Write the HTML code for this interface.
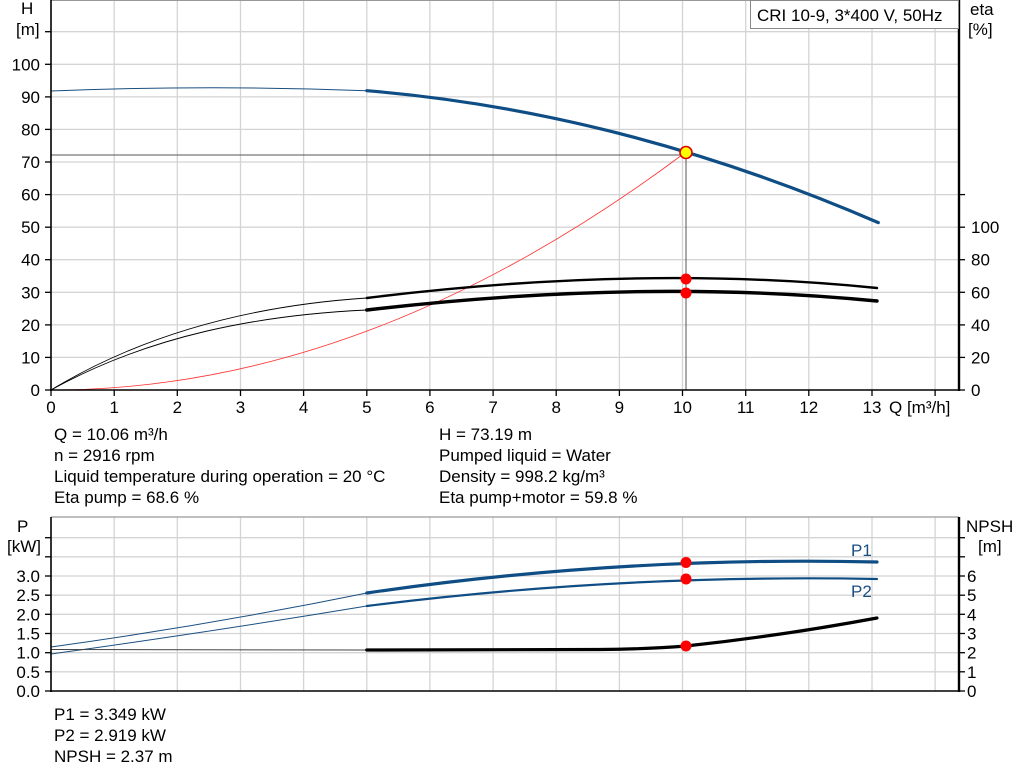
<!DOCTYPE html>
<html><head><meta charset="utf-8"><style>
html,body{margin:0;padding:0;background:#fff}
svg{display:block}
text{font-family:"Liberation Sans",Arial,sans-serif;font-size:17px;fill:#000}
</style></head><body>
<svg width="1024" height="781" viewBox="0 0 1024 781" xmlns="http://www.w3.org/2000/svg">
<g stroke="#d4d4d4" stroke-width="1.3">
<line x1="114.2" y1="0" x2="114.2" y2="390"/><line x1="177.3" y1="0" x2="177.3" y2="390"/><line x1="240.5" y1="0" x2="240.5" y2="390"/><line x1="303.6" y1="0" x2="303.6" y2="390"/><line x1="366.8" y1="0" x2="366.8" y2="390"/><line x1="429.9" y1="0" x2="429.9" y2="390"/><line x1="493.1" y1="0" x2="493.1" y2="390"/><line x1="556.2" y1="0" x2="556.2" y2="390"/><line x1="619.4" y1="0" x2="619.4" y2="390"/><line x1="682.5" y1="0" x2="682.5" y2="390"/><line x1="745.7" y1="0" x2="745.7" y2="390"/><line x1="808.8" y1="0" x2="808.8" y2="390"/><line x1="872" y1="0" x2="872" y2="390"/><line x1="935.1" y1="0" x2="935.1" y2="390"/>
<line x1="51" y1="357.4" x2="959" y2="357.4"/><line x1="51" y1="324.9" x2="959" y2="324.9"/><line x1="51" y1="292.3" x2="959" y2="292.3"/><line x1="51" y1="259.7" x2="959" y2="259.7"/><line x1="51" y1="227.2" x2="959" y2="227.2"/><line x1="51" y1="194.6" x2="959" y2="194.6"/><line x1="51" y1="162" x2="959" y2="162"/><line x1="51" y1="129.4" x2="959" y2="129.4"/><line x1="51" y1="96.9" x2="959" y2="96.9"/><line x1="51" y1="64.3" x2="959" y2="64.3"/><line x1="51" y1="31.7" x2="959" y2="31.7"/>
</g>
<line x1="51" y1="0.5" x2="959" y2="0.5" stroke="#999" stroke-width="1"/>
<line x1="51" y1="155" x2="686" y2="155" stroke="#555" stroke-width="1"/>
<line x1="686" y1="152" x2="686" y2="390" stroke="#555" stroke-width="1"/>
<path d="M51,390 Q368.6,390 686,152" fill="none" stroke="#ff3030" stroke-width="0.8"/>
<path d="M51,91 Q209,84.7 366.8,90.7" fill="none" stroke="#1a4f80" stroke-width="1"/>
<path d="M366.8,90.7 Q622.5,111.9 878.3,222.6" fill="none" stroke="#0f4d85" stroke-width="3.2" stroke-linecap="round"/>
<path d="M51,390 C150,330 260,305 366.8,298" fill="none" stroke="#000" stroke-width="0.9"/>
<path d="M51,390 C150,335 260,315 366.8,310" fill="none" stroke="#000" stroke-width="0.9"/>
<path d="M366.8,298 Q640,264 877,288" fill="none" stroke="#000" stroke-width="2.4" stroke-linecap="round"/>
<path d="M366.8,310 Q640,278 877,301" fill="none" stroke="#000" stroke-width="3.4" stroke-linecap="round"/>
<circle cx="686" cy="279" r="5.5" fill="#ff0000"/>
<circle cx="686" cy="293" r="5.5" fill="#ff0000"/>
<circle cx="686" cy="152.5" r="6" fill="#ffff00" stroke="#e00000" stroke-width="1.6"/>
<line x1="51" y1="0" x2="51" y2="391" stroke="#000" stroke-width="1.6"/>
<line x1="959" y1="0" x2="959" y2="391" stroke="#000" stroke-width="2.4"/>
<line x1="50" y1="390" x2="960" y2="390" stroke="#000" stroke-width="1.6"/>
<g stroke="#000" stroke-width="1.3">
<line x1="45" y1="390" x2="51" y2="390"/><line x1="45" y1="357.4" x2="51" y2="357.4"/><line x1="45" y1="324.9" x2="51" y2="324.9"/><line x1="45" y1="292.3" x2="51" y2="292.3"/><line x1="45" y1="259.7" x2="51" y2="259.7"/><line x1="45" y1="227.2" x2="51" y2="227.2"/><line x1="45" y1="194.6" x2="51" y2="194.6"/><line x1="45" y1="162" x2="51" y2="162"/><line x1="45" y1="129.4" x2="51" y2="129.4"/><line x1="45" y1="96.9" x2="51" y2="96.9"/><line x1="45" y1="64.3" x2="51" y2="64.3"/><line x1="45" y1="31.7" x2="51" y2="31.7"/>
<line x1="959" y1="390" x2="965" y2="390"/><line x1="959" y1="357.4" x2="965" y2="357.4"/><line x1="959" y1="324.9" x2="965" y2="324.9"/><line x1="959" y1="292.3" x2="965" y2="292.3"/><line x1="959" y1="259.7" x2="965" y2="259.7"/><line x1="959" y1="227.2" x2="965" y2="227.2"/><line x1="959" y1="194.6" x2="965" y2="194.6"/>
<line x1="51" y1="390" x2="51" y2="396"/><line x1="114.2" y1="390" x2="114.2" y2="396"/><line x1="177.3" y1="390" x2="177.3" y2="396"/><line x1="240.5" y1="390" x2="240.5" y2="396"/><line x1="303.6" y1="390" x2="303.6" y2="396"/><line x1="366.8" y1="390" x2="366.8" y2="396"/><line x1="429.9" y1="390" x2="429.9" y2="396"/><line x1="493.1" y1="390" x2="493.1" y2="396"/><line x1="556.2" y1="390" x2="556.2" y2="396"/><line x1="619.4" y1="390" x2="619.4" y2="396"/><line x1="682.5" y1="390" x2="682.5" y2="396"/><line x1="745.7" y1="390" x2="745.7" y2="396"/><line x1="808.8" y1="390" x2="808.8" y2="396"/><line x1="872" y1="390" x2="872" y2="396"/><line x1="935.1" y1="390" x2="935.1" y2="396"/>
</g>
<g text-anchor="end">
<text x="40" y="396">0</text><text x="40" y="363.4">10</text><text x="40" y="330.9">20</text><text x="40" y="298.3">30</text><text x="40" y="265.7">40</text><text x="40" y="233.2">50</text><text x="40" y="200.6">60</text><text x="40" y="168">70</text><text x="40" y="135.4">80</text><text x="40" y="102.9">90</text><text x="40" y="70.3">100</text>
</g>
<text x="21" y="14">H</text><text x="16" y="35">[m]</text>
<g>
<text x="971" y="396">0</text><text x="971" y="363.4">20</text><text x="971" y="330.9">40</text><text x="971" y="298.3">60</text><text x="971" y="265.7">80</text><text x="971" y="233.2">100</text>
</g>
<text x="970" y="15">eta</text><text x="968" y="35">[%]</text>
<g text-anchor="middle">
<text x="51" y="413">0</text><text x="114.2" y="413">1</text><text x="177.3" y="413">2</text><text x="240.5" y="413">3</text><text x="303.6" y="413">4</text><text x="366.8" y="413">5</text><text x="429.9" y="413">6</text><text x="493.1" y="413">7</text><text x="556.2" y="413">8</text><text x="619.4" y="413">9</text><text x="682.5" y="413">10</text><text x="745.7" y="413">11</text><text x="808.8" y="413">12</text><text x="872" y="413">13</text>
</g>
<text x="889" y="413">Q [m³/h]</text>
<rect x="750.5" y="0.5" width="208" height="28" fill="#fff" stroke="#888" stroke-width="1"/>
<text x="757" y="21">CRI 10-9, 3*400 V, 50Hz</text>
<text x="54" y="440">Q = 10.06 m³/h</text>
<text x="54" y="461">n = 2916 rpm</text>
<text x="54" y="482">Liquid temperature during operation = 20 °C</text>
<text x="54" y="503">Eta pump = 68.6 %</text>
<text x="439" y="440">H = 73.19 m</text>
<text x="439" y="461">Pumped liquid = Water</text>
<text x="439" y="482">Density = 998.2 kg/m³</text>
<text x="439" y="503">Eta pump+motor = 59.8 %</text>
<g stroke="#d4d4d4" stroke-width="1.3">
<line x1="114.2" y1="517" x2="114.2" y2="691"/><line x1="177.3" y1="517" x2="177.3" y2="691"/><line x1="240.5" y1="517" x2="240.5" y2="691"/><line x1="303.6" y1="517" x2="303.6" y2="691"/><line x1="366.8" y1="517" x2="366.8" y2="691"/><line x1="429.9" y1="517" x2="429.9" y2="691"/><line x1="493.1" y1="517" x2="493.1" y2="691"/><line x1="556.2" y1="517" x2="556.2" y2="691"/><line x1="619.4" y1="517" x2="619.4" y2="691"/><line x1="682.5" y1="517" x2="682.5" y2="691"/><line x1="745.7" y1="517" x2="745.7" y2="691"/><line x1="808.8" y1="517" x2="808.8" y2="691"/><line x1="872" y1="517" x2="872" y2="691"/><line x1="935.1" y1="517" x2="935.1" y2="691"/>
<line x1="51" y1="671.8" x2="959" y2="671.8"/><line x1="51" y1="652.7" x2="959" y2="652.7"/><line x1="51" y1="633.5" x2="959" y2="633.5"/><line x1="51" y1="614.3" x2="959" y2="614.3"/><line x1="51" y1="595.2" x2="959" y2="595.2"/><line x1="51" y1="576" x2="959" y2="576"/><line x1="51" y1="556.8" x2="959" y2="556.8"/><line x1="51" y1="537.7" x2="959" y2="537.7"/>
</g>
<line x1="51" y1="517" x2="959" y2="517" stroke="#999" stroke-width="1.2"/>
<path d="M51,647 Q210,625 366.8,593" fill="none" stroke="#1a4f80" stroke-width="1"/>
<path d="M51,654 Q210,632 366.8,606" fill="none" stroke="#1a4f80" stroke-width="1"/>
<path d="M366.8,593 Q620,556 877,562" fill="none" stroke="#0f4d85" stroke-width="3.2" stroke-linecap="round"/>
<path d="M366.8,606 Q620,574 877,579" fill="none" stroke="#0f4d85" stroke-width="2.2" stroke-linecap="round"/>
<path d="M51,649.5 L366.8,650" fill="none" stroke="#444" stroke-width="1"/>
<path d="M366.8,650 L600,649.5 Q650,649 686,646 Q780,636 877,618" fill="none" stroke="#000" stroke-width="3.2" stroke-linecap="round"/>
<circle cx="686" cy="562.5" r="5.5" fill="#ff0000"/>
<circle cx="686" cy="579" r="5.5" fill="#ff0000"/>
<circle cx="686" cy="646" r="5.5" fill="#ff0000"/>
<text x="851" y="556" style="fill:#1a4f80">P1</text>
<text x="851" y="597" style="fill:#1a4f80">P2</text>
<line x1="51" y1="517" x2="51" y2="692" stroke="#000" stroke-width="1.6"/>
<line x1="959" y1="517" x2="959" y2="692" stroke="#000" stroke-width="2.4"/>
<line x1="50" y1="691" x2="960" y2="691" stroke="#000" stroke-width="1.6"/>
<g stroke="#000" stroke-width="1.3">
<line x1="45" y1="691" x2="51" y2="691"/><line x1="45" y1="671.8" x2="51" y2="671.8"/><line x1="45" y1="652.7" x2="51" y2="652.7"/><line x1="45" y1="633.5" x2="51" y2="633.5"/><line x1="45" y1="614.3" x2="51" y2="614.3"/><line x1="45" y1="595.2" x2="51" y2="595.2"/><line x1="45" y1="576" x2="51" y2="576"/><line x1="45" y1="556.8" x2="51" y2="556.8"/><line x1="45" y1="537.7" x2="51" y2="537.7"/>
<line x1="959" y1="691" x2="965" y2="691"/><line x1="959" y1="671.8" x2="965" y2="671.8"/><line x1="959" y1="652.7" x2="965" y2="652.7"/><line x1="959" y1="633.5" x2="965" y2="633.5"/><line x1="959" y1="614.3" x2="965" y2="614.3"/><line x1="959" y1="595.2" x2="965" y2="595.2"/><line x1="959" y1="576" x2="965" y2="576"/><line x1="959" y1="556.8" x2="965" y2="556.8"/><line x1="959" y1="537.7" x2="965" y2="537.7"/>
</g>
<g text-anchor="end">
<text x="40" y="697">0.0</text><text x="40" y="677.8">0.5</text><text x="40" y="658.7">1.0</text><text x="40" y="639.5">1.5</text><text x="40" y="620.3">2.0</text><text x="40" y="601.2">2.5</text><text x="40" y="582">3.0</text>
</g>
<text x="17" y="532">P</text><text x="7" y="552">[kW]</text>
<g>
<text x="967" y="697">0</text><text x="967" y="677.8">1</text><text x="967" y="658.7">2</text><text x="967" y="639.5">3</text><text x="967" y="620.3">4</text><text x="967" y="601.2">5</text><text x="967" y="582">6</text>
</g>
<text x="966" y="532">NPSH</text><text x="978" y="552">[m]</text>
<text x="54" y="720">P1 = 3.349 kW</text>
<text x="54" y="741">P2 = 2.919 kW</text>
<text x="54" y="762">NPSH = 2.37 m</text>
</svg>
</body></html>
